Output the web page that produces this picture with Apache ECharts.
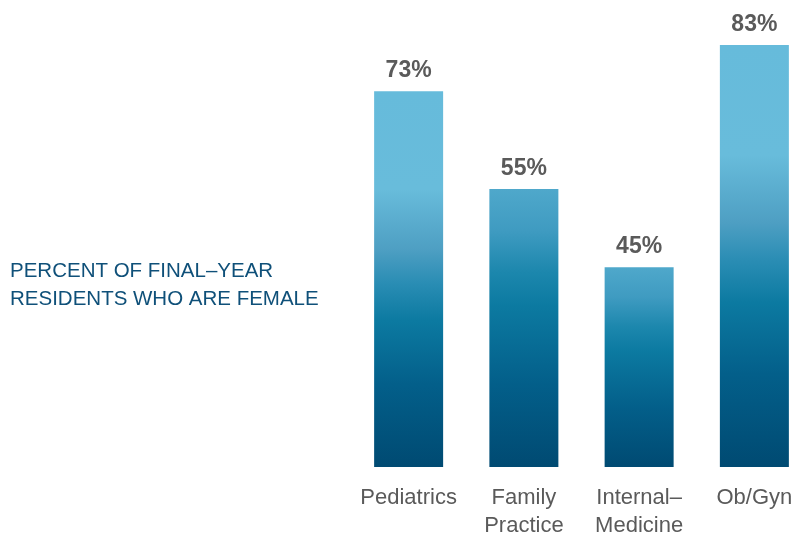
<!DOCTYPE html>
<html>
<head>
<meta charset="utf-8">
<script src="https://cdn.jsdelivr.net/npm/echarts@6/dist/echarts.min.js"></script>
<style>html,body{margin:0;padding:0;background:#fff}#c{width:792px;height:535px}</style>
</head>
<body>
<div id="c"></div>
<script>
var categories = ['Pediatrics', 'Family\nPractice', 'Internal–\nMedicine', 'Ob/Gyn'];
var barValues = [73.9, 54.7, 39.3, 83];
var valueLabels = ['73%', '55%', '45%', '83%'];
var titleText = 'PERCENT OF FINAL–YEAR\nRESIDENTS WHO ARE FEMALE';

var G = echarts.graphic.LinearGradient;
function tallGrad() {
  return new G(0, 0, 0, 1, [
    {offset: 0, color: '#66bbdb'}, {offset: 0.26, color: '#68bcdb'},
    {offset: 0.42, color: '#4e9fc3'}, {offset: 0.51, color: '#2a8db4'},
    {offset: 0.61, color: '#0c7aa1'}, {offset: 0.78, color: '#035f8a'},
    {offset: 1, color: '#004a72'}]);
}
function shortGrad() {
  return new G(0, 0, 0, 1, [
    {offset: 0, color: '#4fa8cb'}, {offset: 0.15, color: '#3f9bc1'},
    {offset: 0.3, color: '#1c87ad'}, {offset: 0.42, color: '#0c7aa1'},
    {offset: 0.7, color: '#035f8a'}, {offset: 1, color: '#004a72'}]);
}
var grads = [tallGrad(), shortGrad(), shortGrad(), tallGrad()];
var seriesData = barValues.map(function (v, i) {
  return {value: v, itemStyle: {color: grads[i]}};
});

var chart = echarts.init(document.getElementById('c'), null, {renderer: 'canvas'});
chart.setOption({
  animation: false,
  backgroundColor: '#ffffff',
  title: {
    text: titleText,
    left: 10, top: 257, padding: 0,
    textStyle: {fontFamily: '"Liberation Sans", Arial, sans-serif', fontWeight: 'normal',
      fontSize: 20.5, lineHeight: 28, color: '#0f5079'}
  },
  grid: {left: 351, top: 45, width: 461, height: 422, containLabel: false, outerBoundsMode: 'none'},
  xAxis: {
    type: 'category', data: categories,
    axisLine: {show: false}, axisTick: {show: false},
    axisLabel: {margin: 17, fontFamily: '"Liberation Sans", Arial, sans-serif',
      fontSize: 22, lineHeight: 28, color: '#5a5a5a', interval: 0}
  },
  yAxis: {type: 'value', min: 0, max: 83, show: false, splitLine: {show: false}},
  series: [{
    type: 'bar', barWidth: 69, data: seriesData,
    label: {
      show: true, position: 'top', distance: 9,
      formatter: function (p) { return valueLabels[p.dataIndex]; },
      fontFamily: '"Liberation Sans", Arial, sans-serif', fontWeight: 'bold',
      fontSize: 23, color: '#5a5a5a'
    }
  }]
});
</script>
</body>
</html>
